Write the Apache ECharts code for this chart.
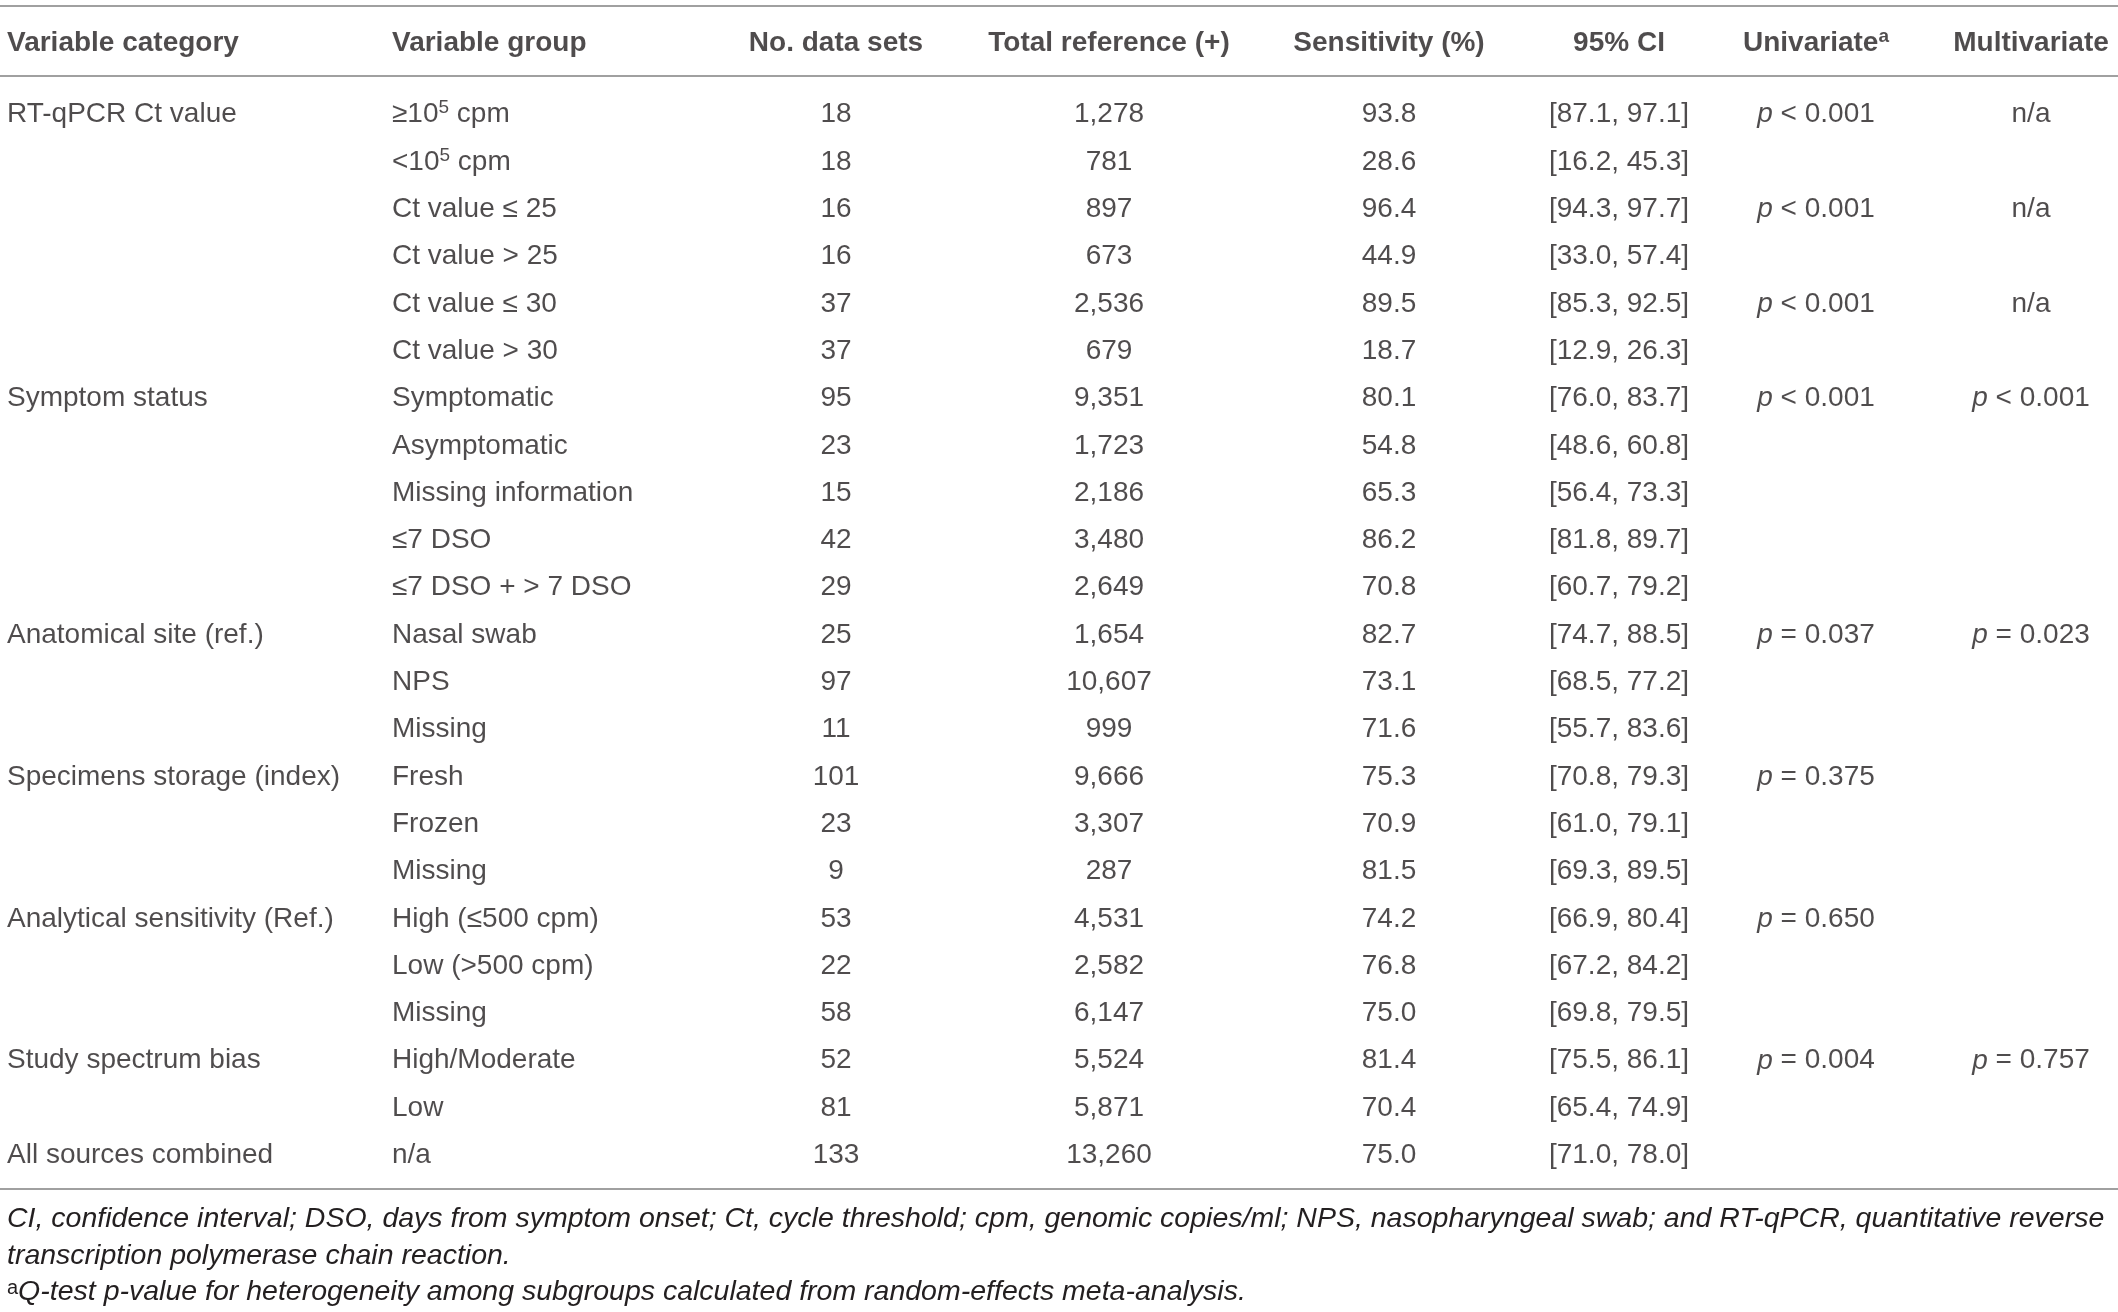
<!DOCTYPE html>
<html>
<head>
<meta charset="utf-8">
<script src="https://cdn.jsdelivr.net/npm/echarts@6/dist/echarts.min.js"></script>
<style>
  html, body { margin: 0; padding: 0; background: #fff; }
  #main { width: 2118px; height: 1312px; }
</style>
</head>
<body>
<div id="main"></div>
<script>
// table content
const headers = ['Variable category', 'Variable group', 'No. data sets', 'Total reference (+)', 'Sensitivity (%)', '95% CI', 'Univariate^a', 'Multivariate']

const categories = ['RT-qPCR Ct value', '', '', '', '', '', 'Symptom status', '', '', '', '', 'Anatomical site (ref.)', '', '',
  'Specimens storage (index)', '', '', 'Analytical sensitivity (Ref.)', '', '', 'Study spectrum bias', '', 'All sources combined']
const groups = ['≥10^5 cpm', '<10^5 cpm', 'Ct value ≤ 25', 'Ct value > 25', 'Ct value ≤ 30', 'Ct value > 30', 'Symptomatic',
  'Asymptomatic', 'Missing information', '≤7 DSO', '≤7 DSO + > 7 DSO', 'Nasal swab', 'NPS', 'Missing', 'Fresh', 'Frozen',
  'Missing', 'High (≤500 cpm)', 'Low (>500 cpm)', 'Missing', 'High/Moderate', 'Low', 'n/a']
const dataSets = [18, 18, 16, 16, 37, 37, 95, 23, 15, 42, 29, 25, 97, 11, 101, 23, 9, 53, 22, 58, 52, 81, 133]
const totalRef = [1278, 781, 897, 673, 2536, 679, 9351, 1723, 2186, 3480, 2649, 1654, 10607, 999, 9666, 3307, 287, 4531, 2582, 6147, 5524, 5871, 13260]
const sensitivity = [93.8, 28.6, 96.4, 44.9, 89.5, 18.7, 80.1, 54.8, 65.3, 86.2, 70.8, 82.7, 73.1, 71.6, 75.3, 70.9, 81.5, 74.2, 76.8, 75.0, 81.4, 70.4, 75.0]
const ciLow = [87.1, 16.2, 94.3, 33.0, 85.3, 12.9, 76.0, 48.6, 56.4, 81.8, 60.7, 74.7, 68.5, 55.7, 70.8, 61.0, 69.3, 66.9, 67.2, 69.8, 75.5, 65.4, 71.0]
const ciHigh = [97.1, 45.3, 97.7, 57.4, 92.5, 26.3, 83.7, 60.8, 73.3, 89.7, 79.2, 88.5, 77.2, 83.6, 79.3, 79.1, 89.5, 80.4, 84.2, 79.5, 86.1, 74.9, 78.0]
const univariate = ['p < 0.001', '', 'p < 0.001', '', 'p < 0.001', '', 'p < 0.001', '', '', '', '', 'p = 0.037', '', '',
  'p = 0.375', '', '', 'p = 0.650', '', '', 'p = 0.004', '', '']
const multivariate = ['n/a', '', 'n/a', '', 'n/a', '', 'p < 0.001', '', '', '', '', 'p = 0.023', '', '', '', '', '', '', '', '', 'p = 0.757', '', '']

const footnotes = [
  'CI, confidence interval; DSO, days from symptom onset; Ct, cycle threshold; cpm, genomic copies/ml; NPS, nasopharyngeal swab; and RT-qPCR, quantitative reverse',
  'transcription polymerase chain reaction.',
  '^aQ-test p-value for heterogeneity among subgroups calculated from random-effects meta-analysis.'
]

// layout
const W = 2118
const colX = [7, 392, 836, 1109, 1389, 1619, 1816, 2031]
const colAlign = ['left', 'left', 'center', 'center', 'center', 'center', 'center', 'center']
const footY = [1222, 1259, 1295]
const font = '"Liberation Sans", Helvetica, Arial, sans-serif'
const ink = '#231f20'
const ruleColor = '#a0a0a0'

const columns = [
  categories,
  groups,
  dataSets.map(String),
  totalRef.map(v => v.toLocaleString('en-US')),
  sensitivity.map(v => v.toFixed(1)),
  ciLow.map((v, i) => '[' + v.toFixed(1) + ', ' + ciHigh[i].toFixed(1) + ']'),
  univariate,
  multivariate
]

// ^x -> superscript, leading p -> italic p
function rich (s) {
  return s.replace(/\^(\w)/g, '{sup|$1}').replace(/^p /, '{it|p} ')
}

const richStyles = {
  sup: { fontSize: 19, fontFamily: font, color: ink, verticalAlign: 'top', lineHeight: 22 },
  it: { fontSize: 28, fontFamily: font, color: ink, fontStyle: 'italic' }
}

const rowIdx = groups.map((_, i) => String(i))

const series = []
columns.forEach((col, c) => {
  series.push({
    type: 'scatter',
    xAxisIndex: 2,
    yAxisIndex: 1,
    symbolSize: 0,
    silent: true,
    data: col.map((t, i) => ({ value: [colX[c], i], name: t })),
    label: {
      show: true,
      position: 'inside',
      align: colAlign[c],
      verticalAlign: 'middle',
      fontSize: 28,
      fontFamily: font,
      color: ink,
      lineHeight: 32,
      formatter: p => rich(p.name),
      rich: richStyles
    }
  })
})
headers.forEach((h, c) => {
  series.push({
    type: 'scatter',
    xAxisIndex: 0,
    yAxisIndex: 0,
    symbolSize: 0,
    silent: true,
    data: [{ value: [colX[c], 0], name: h }],
    label: {
      show: true,
      position: 'inside',
      align: colAlign[c],
      verticalAlign: 'middle',
      fontSize: 28,
      fontWeight: 'bold',
      fontFamily: font,
      color: ink,
      lineHeight: 32,
      offset: [0, 2],
      formatter: p => rich(p.name),
      rich: richStyles
    }
  })
})

const rule = { show: true, lineStyle: { color: ruleColor, width: 2 } }
const hiddenX = { type: 'value', min: 0, max: W, axisTick: { show: false }, axisLabel: { show: false }, splitLine: { show: false } }

const chart = echarts.init(document.getElementById('main'))
chart.setOption({
  animation: false,
  grid: [
    { left: 0, right: 0, top: 6, height: 70 },
    { left: 0, right: 0, top: 91, height: 1088 }
  ],
  xAxis: [
    Object.assign({ gridIndex: 0, position: 'top', axisLine: rule }, hiddenX),
    Object.assign({ gridIndex: 0, position: 'bottom', axisLine: rule }, hiddenX),
    Object.assign({ gridIndex: 1, position: 'bottom', offset: 10, axisLine: rule }, hiddenX)
  ],
  yAxis: [
    { gridIndex: 0, type: 'category', data: ['header'], show: false },
    { gridIndex: 1, type: 'category', data: rowIdx, inverse: true, show: false }
  ],
  series: series,
  graphic: footnotes.map((t, i) => ({
    type: 'text',
    left: 7,
    top: footY[i] - 17,
    silent: true,
    style: {
      text: t.replace(/\^(\w)/g, '{sup|$1}'),
      font: 'italic 28.5px ' + font,
      fill: ink,
      rich: {
        sup: { fontSize: 20, fontFamily: font, fill: ink, verticalAlign: 'top', lineHeight: 22 }
      }
    }
  }))
})
</script>
</body>
</html>
